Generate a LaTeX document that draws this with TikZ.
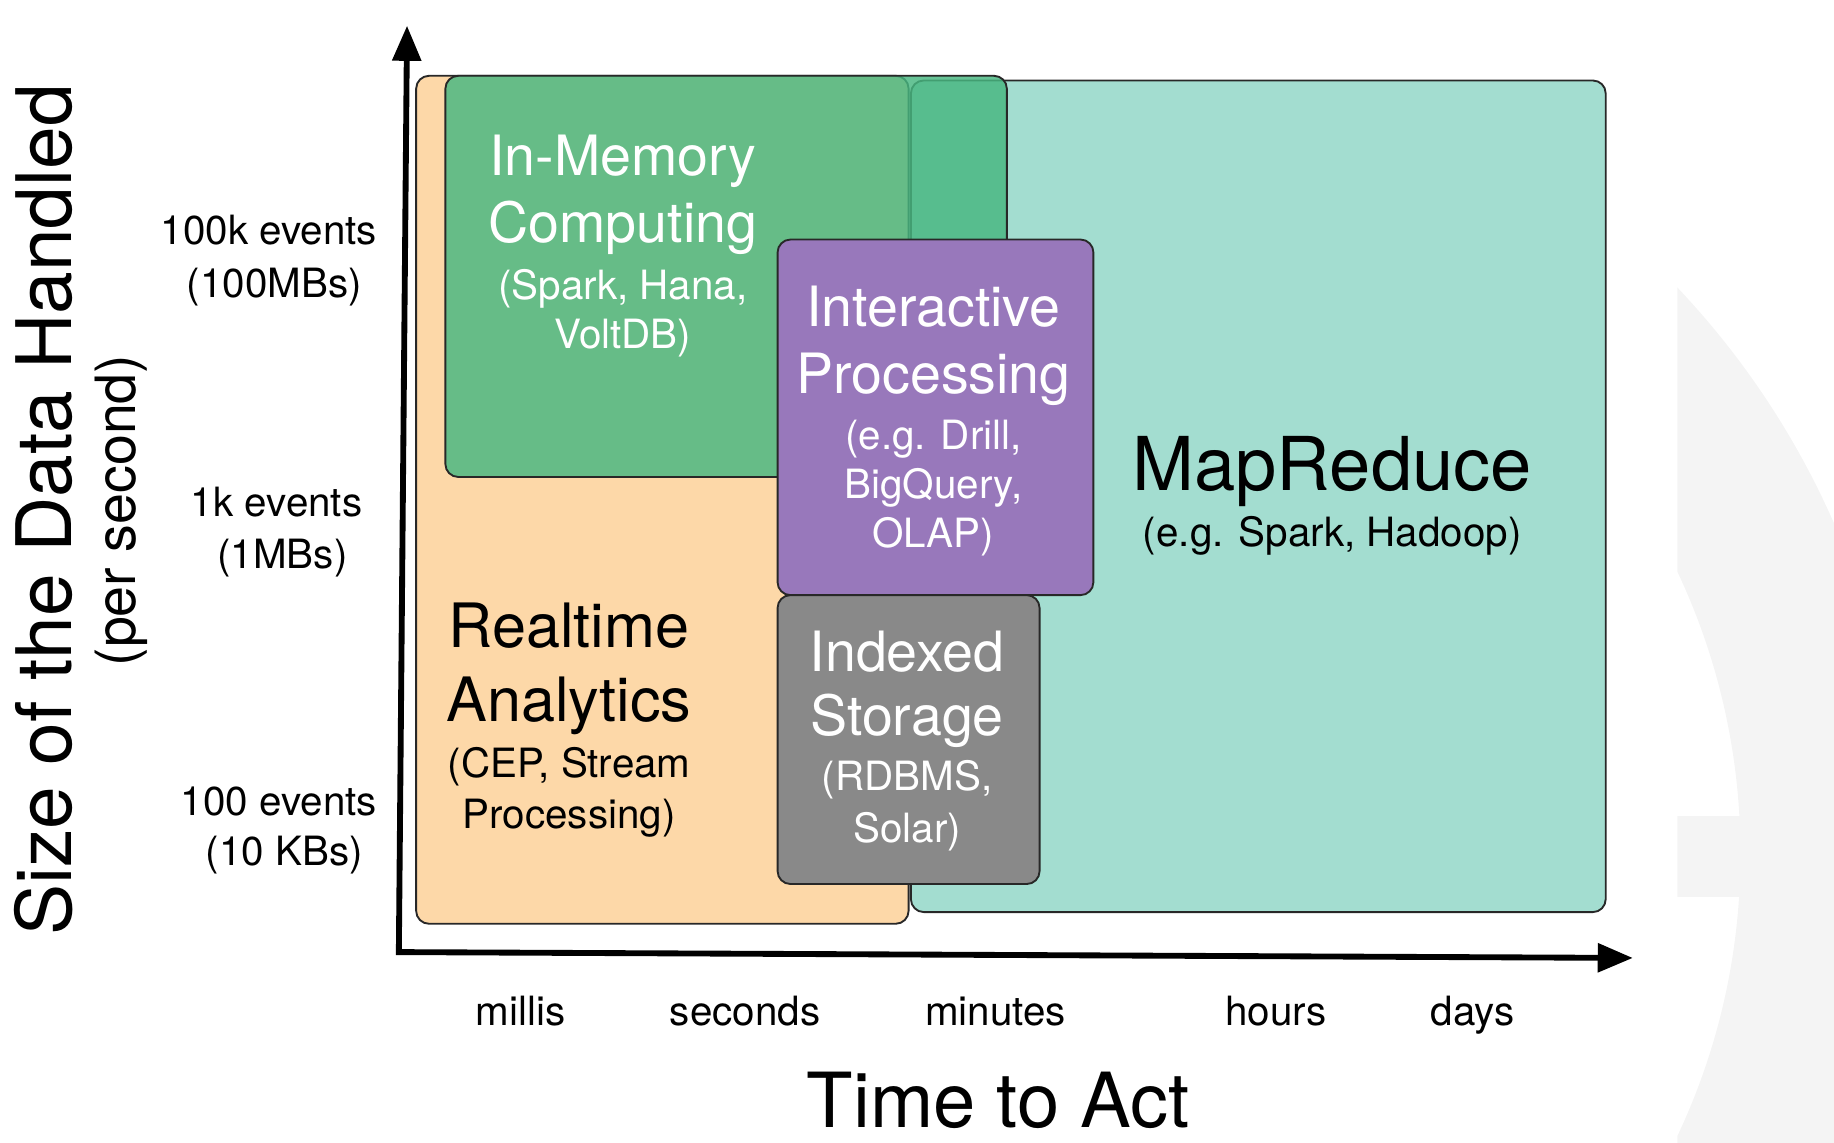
\documentclass[tikz,border=0pt]{standalone}
\usepackage{fontspec}
\setmainfont{TeX Gyre Heros}
\usetikzlibrary{arrows.meta}
\definecolor{cOrange}{RGB}{253,216,168}
\definecolor{cTeal}{RGB}{163,221,208}
\definecolor{cGreen}{RGB}{72,183,129}
\definecolor{cPurple}{RGB}{152,120,187}
\definecolor{cGray}{RGB}{137,137,137}
\definecolor{cBorder}{RGB}{40,40,40}
\definecolor{cWater}{RGB}{244,244,244}
\newcommand\fBig{\fontsize{47.5}{57}\selectfont}
\newcommand\fRT{\fontsize{52.3}{62}\selectfont}
\newcommand\fSub{\fontsize{34.5}{42}\selectfont}
\newcommand\fMR{\fontsize{63.5}{74}\selectfont}
\newcommand\fTA{\fontsize{65}{76}\selectfont}
\newcommand\fYA{\fontsize{65.5}{76}\selectfont}
\newcommand\fPS{\fontsize{47.5}{56}\selectfont}
\begin{document}
\begin{tikzpicture}[x=1pt,y=-1pt,
  regbox/.style={draw=cBorder, line width=1.6pt, rounded corners=11pt, inner sep=0pt, anchor=north west},
  txt/.style={inner sep=0pt, anchor=base},
  wtxt/.style={txt, text=white},
  axisline/.style={line width=5pt, {Triangle[length=30pt,width=24pt]}-{Triangle[length=30pt,width=24pt]}}]
\useasboundingbox (0,0) rectangle (1568,976.4);
% watermark
\begin{scope}
\clip (1434,0) rectangle (1568,976.4);
\fill[cWater, even odd rule] (923,730) circle[radius=704pt] (923,730) circle[radius=565pt];
\fill[cWater] (1420,698) rectangle (1500,767);
\end{scope}
% boxes
\node[regbox, fill=cOrange, minimum width=421pt, minimum height=725pt] (rt) at (355,64) {};
\node[regbox, fill=cTeal, minimum width=594pt, minimum height=711pt] (mr) at (778,68) {};
\node[regbox, fill=cGreen, fill opacity=0.83, minimum width=480pt, minimum height=343pt] (im) at (380,64) {};
\node[regbox, fill=cPurple, minimum width=270pt, minimum height=304pt] (ip) at (664,204) {};
\node[regbox, fill=cGray, minimum width=224pt, minimum height=247pt] (is) at (664,508) {};
% axes
\coordinate (O) at (341,814);
\coordinate (Ytip) at (348,22);
\coordinate (Xtip) at (1396,819);
\draw[axisline] (Ytip) -- (O) -- (Xtip);
% In-Memory
\node[wtxt, font=\fBig] (im1) at (532.5,150) {In-Memory};
\node[wtxt, font=\fBig] (im2) at (532.5,207) {Computing};
\node[wtxt, font=\fSub] (im3) at (532.5,256) {(Spark, Hana,};
\node[wtxt, font=\fSub] (im4) at (532.5,298) {VoltDB)};
% Interactive
\node[wtxt, font=\fBig] (ip1) at (798,279) {Interactive};
\node[wtxt, font=\fBig] (ip2) at (798,336) {Processing};
\node[wtxt, font=\fSub] (ip3) at (798,384.5) {(e.g. Drill,};
\node[wtxt, font=\fSub] (ip4) at (798,426) {BigQuery,};
\node[wtxt, font=\fSub] (ip5) at (798,468) {OLAP)};
% Realtime
\node[txt, font=\fRT] (ra1) at (486.5,554) {Realtime};
\node[txt, font=\fRT] (ra2) at (486.5,616.5) {Analytics};
\node[txt, font=\fSub] (ra3) at (486.5,665) {(CEP, Stream};
\node[txt, font=\fSub] (ra4) at (486.5,708) {Processing)};
% Indexed
\node[wtxt, font=\fBig] (is1) at (775.5,574) {Indexed};
\node[wtxt, font=\fBig] (is2) at (775.5,629) {Storage};
\node[wtxt, font=\fSub] (is3) at (775.5,676) {(RDBMS,};
\node[wtxt, font=\fSub] (is4) at (775.5,720) {Solar)};
% MapReduce
\node[txt, font=\fMR] (mr1) at (1139,419) {MapReduce};
\node[txt, font=\fSub] (mr2) at (1139,467) {(e.g. Spark, Hadoop)};
% y tick labels
\node[txt, font=\fSub] (t1a) at (230,209) {100k events};
\node[txt, font=\fSub] (t1b) at (234.5,254) {(100MBs)};
\node[txt, font=\fSub] (t2a) at (236.5,442) {1k events};
\node[txt, font=\fSub] (t2b) at (241.5,486) {(1MBs)};
\node[txt, font=\fSub] (t3a) at (238.5,697) {100 events};
\node[txt, font=\fSub] (t3b) at (243,740) {(10 KBs)};
% x tick labels
\node[txt, font=\fSub] (xl1) at (445,877) {millis};
\node[txt, font=\fSub] (xl2) at (637,877) {seconds};
\node[txt, font=\fSub] (xl3) at (851,877) {minutes};
\node[txt, font=\fSub] (xl4) at (1091,877) {hours};
\node[txt, font=\fSub] (xl5) at (1259,877) {days};
% axis titles
\node[txt, font=\fTA] (xt) at (853.5,964) {Time to Act};
\node[txt, font=\fYA, rotate=90] (yt) at (61,436) {Size of the Data Handled};
\node[txt, font=\fPS, rotate=90] (ys) at (116,436.5) {(per second)};
\end{tikzpicture}
\end{document}
